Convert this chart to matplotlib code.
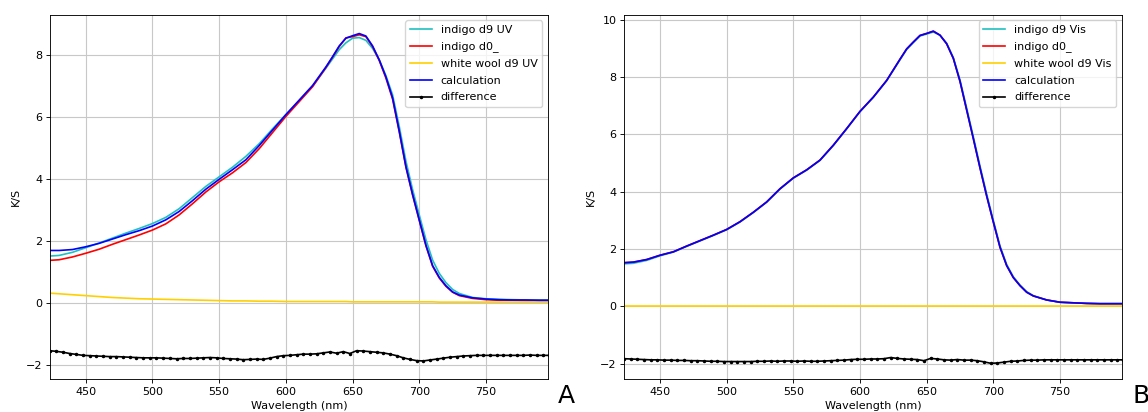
import matplotlib
matplotlib.use('Agg')
from matplotlib import pyplot as plt

# wavelength grid (nm) shared by the spectra
wl = [423, 430, 440, 450, 460, 470, 480, 490, 500, 510, 520, 530, 540, 550,
      560, 570, 580, 590, 600, 610, 620, 630, 635, 640, 645, 650, 655, 660,
      665, 670, 675, 680, 685, 690, 695, 700, 705, 710, 715, 720, 725, 730,
      740, 750, 760, 770, 780, 790, 797]

# --- panel A (UV) ---
d9_uv = [1.51, 1.53, 1.63, 1.78, 1.93, 2.09, 2.25, 2.40, 2.56, 2.76, 3.04, 3.40, 3.76, 4.07,
         4.38, 4.73, 5.14, 5.62, 6.08, 6.53, 7.00, 7.58, 7.88, 8.18, 8.40, 8.55, 8.57, 8.48,
         8.22, 7.85, 7.34, 6.72, 5.70, 4.58, 3.66, 2.84, 2.04, 1.38, 0.95, 0.65, 0.43, 0.30,
         0.17, 0.13, 0.11, 0.10, 0.09, 0.09, 0.09]
d0_a = [1.37, 1.39, 1.48, 1.60, 1.73, 1.89, 2.04, 2.19, 2.35, 2.55, 2.84, 3.20, 3.58, 3.91,
        4.20, 4.53, 4.98, 5.50, 6.02, 6.50, 6.98, 7.60, 7.94, 8.28, 8.56, 8.60, 8.66, 8.60,
        8.28, 7.83, 7.26, 6.58, 5.52, 4.38, 3.48, 2.66, 1.84, 1.18, 0.80, 0.53, 0.34, 0.23,
        0.14, 0.10, 0.08, 0.08, 0.07, 0.07, 0.07]
wool_uv = [0.31, 0.29, 0.26, 0.23, 0.20, 0.17, 0.15, 0.13, 0.12, 0.11, 0.10, 0.09, 0.08, 0.07,
           0.06, 0.06, 0.05, 0.05, 0.04, 0.04, 0.04, 0.04, 0.04, 0.04, 0.04, 0.03, 0.03, 0.03,
           0.03, 0.03, 0.03, 0.03, 0.03, 0.03, 0.03, 0.03, 0.03, 0.03, 0.02, 0.02, 0.02, 0.02,
           0.02, 0.02, 0.02, 0.02, 0.02, 0.02, 0.02]
calc_a = [1.69, 1.69, 1.72, 1.81, 1.92, 2.06, 2.20, 2.33, 2.48, 2.68, 2.95, 3.30, 3.67, 3.99,
          4.30, 4.62, 5.08, 5.58, 6.08, 6.55, 7.02, 7.62, 7.95, 8.30, 8.55, 8.63, 8.70, 8.62,
          8.30, 7.85, 7.30, 6.62, 5.55, 4.40, 3.50, 2.68, 1.86, 1.20, 0.82, 0.55, 0.35, 0.25,
          0.16, 0.12, 0.10, 0.09, 0.09, 0.08, 0.08]

# --- panel B (Vis) ---
d9_vis = [1.48, 1.50, 1.60, 1.76, 1.89, 2.09, 2.28, 2.47, 2.67, 2.94, 3.27, 3.63, 4.09, 4.47,
          4.75, 5.09, 5.61, 6.19, 6.79, 7.29, 7.87, 8.60, 8.96, 9.20, 9.43, 9.50, 9.57, 9.46,
          9.18, 8.68, 7.90, 6.92, 5.92, 4.90, 3.92, 3.00, 2.11, 1.46, 1.03, 0.74, 0.51, 0.37,
          0.22, 0.14, 0.12, 0.10, 0.09, 0.09, 0.09]
d0_b = [1.52, 1.54, 1.63, 1.78, 1.90, 2.10, 2.29, 2.48, 2.68, 2.95, 3.28, 3.64, 4.10, 4.48,
        4.76, 5.10, 5.62, 6.20, 6.80, 7.30, 7.88, 8.62, 8.98, 9.22, 9.45, 9.52, 9.60, 9.46,
        9.16, 8.65, 7.85, 6.85, 5.85, 4.83, 3.85, 2.94, 2.06, 1.42, 1.00, 0.72, 0.49, 0.36,
        0.22, 0.14, 0.12, 0.10, 0.09, 0.09, 0.09]
wool_vis = [0.02] * len(wl)
calc_b = [1.52, 1.54, 1.63, 1.78, 1.90, 2.10, 2.29, 2.48, 2.68, 2.95, 3.28, 3.64, 4.10, 4.48,
          4.76, 5.10, 5.62, 6.20, 6.80, 7.30, 7.88, 8.62, 8.98, 9.22, 9.45, 9.52, 9.60, 9.46,
          9.16, 8.65, 7.85, 6.85, 5.85, 4.83, 3.85, 2.94, 2.06, 1.42, 1.00, 0.72, 0.49, 0.36,
          0.22, 0.14, 0.12, 0.10, 0.09, 0.09, 0.09]

# difference curves, denser 5 nm grid
wl_diff = list(range(423, 794, 5)) + [797]
diff_a = [-1.55, -1.57, -1.60, -1.64, -1.67, -1.70, -1.71, -1.72, -1.73, -1.74, -1.74, -1.75,
          -1.76, -1.77, -1.78, -1.78, -1.78, -1.79, -1.80, -1.81, -1.80, -1.80, -1.79, -1.78,
          -1.77, -1.78, -1.80, -1.81, -1.82, -1.84, -1.83, -1.82, -1.83, -1.79, -1.74, -1.71,
          -1.70, -1.68, -1.66, -1.66, -1.65, -1.62, -1.59, -1.63, -1.58, -1.64, -1.55, -1.56,
          -1.58, -1.60, -1.62, -1.66, -1.71, -1.78, -1.83, -1.87, -1.88, -1.85, -1.82, -1.79,
          -1.76, -1.74, -1.72, -1.71, -1.70, -1.70, -1.70, -1.70, -1.70, -1.70, -1.70, -1.70,
          -1.69, -1.70, -1.70, -1.70]
diff_b = [-1.83, -1.84, -1.85, -1.86, -1.87, -1.87, -1.88, -1.88, -1.89, -1.89, -1.90, -1.90,
          -1.91, -1.92, -1.92, -1.93, -1.93, -1.93, -1.93, -1.93, -1.92, -1.92, -1.91, -1.92,
          -1.91, -1.91, -1.92, -1.91, -1.92, -1.92, -1.91, -1.90, -1.89, -1.88, -1.86, -1.85,
          -1.85, -1.84, -1.84, -1.83, -1.79, -1.82, -1.84, -1.85, -1.86, -1.90, -1.82, -1.84,
          -1.87, -1.88, -1.86, -1.88, -1.88, -1.90, -1.94, -1.99, -1.98, -1.95, -1.92, -1.91,
          -1.89, -1.88, -1.88, -1.87, -1.87, -1.87, -1.87, -1.87, -1.87, -1.87, -1.87, -1.87,
          -1.87, -1.87, -1.87, -1.87]

plt.rcParams.update({
    'font.family': 'DejaVu Sans',
    'font.size': 8,
    'lines.linewidth': 1.2,
    'axes.linewidth': 0.64,
    'grid.color': '#c8c8c8',
    'grid.linewidth': 0.8,
    'xtick.major.size': 2.8, 'ytick.major.size': 2.8,
    'xtick.major.width': 0.64, 'ytick.major.width': 0.64,
    'xtick.major.pad': 2.8, 'ytick.major.pad': 2.8,
    'axes.labelpad': 3.2,
    'legend.fontsize': 8,
    'legend.labelspacing': 0.6,
})

fig = plt.figure(figsize=(11.48, 4.12), dpi=100)
ax_a = fig.add_axes([0.0436, 0.080, 0.4335, 0.884])
ax_b = fig.add_axes([0.5438, 0.080, 0.4333, 0.884])


def draw(ax, cyan, red, wool, calc, diff, tag, ylim, yticks):
    ax.plot(wl, cyan, color='#1fc0c0', label='indigo d9 ' + tag)
    ax.plot(wl, red, color='r', label='indigo d0_')
    ax.plot(wl, wool, color='#ffd000', label='white wool d9 ' + tag)
    ax.plot(wl, calc, color='b', label='calculation')
    ax.plot(wl_diff, diff, 'k.-', markersize=3, label='difference')
    ax.set_xlim(423.2, 796.3)
    ax.set_ylim(*ylim)
    ax.set_xticks([450, 500, 550, 600, 650, 700, 750])
    ax.set_yticks(yticks)
    ax.grid(True)
    ax.set_xlabel('Wavelength (nm)')
    ax.set_ylabel('K/S')
    ax.legend(loc='upper right')


draw(ax_a, d9_uv, d0_a, wool_uv, calc_a, diff_a, 'UV', (-2.465, 9.305), [-2, 0, 2, 4, 6, 8])
draw(ax_b, d9_vis, d0_b, wool_vis, calc_b, diff_b, 'Vis', (-2.54, 10.17), [-2, 0, 2, 4, 6, 8, 10])

fig.text(566 / 1148, 1 - 396 / 412, 'A', fontsize=18, ha='center', va='center')
fig.text(1141 / 1148, 1 - 396 / 412, 'B', fontsize=18, ha='center', va='center')

fig.savefig('out.png', dpi=100)
